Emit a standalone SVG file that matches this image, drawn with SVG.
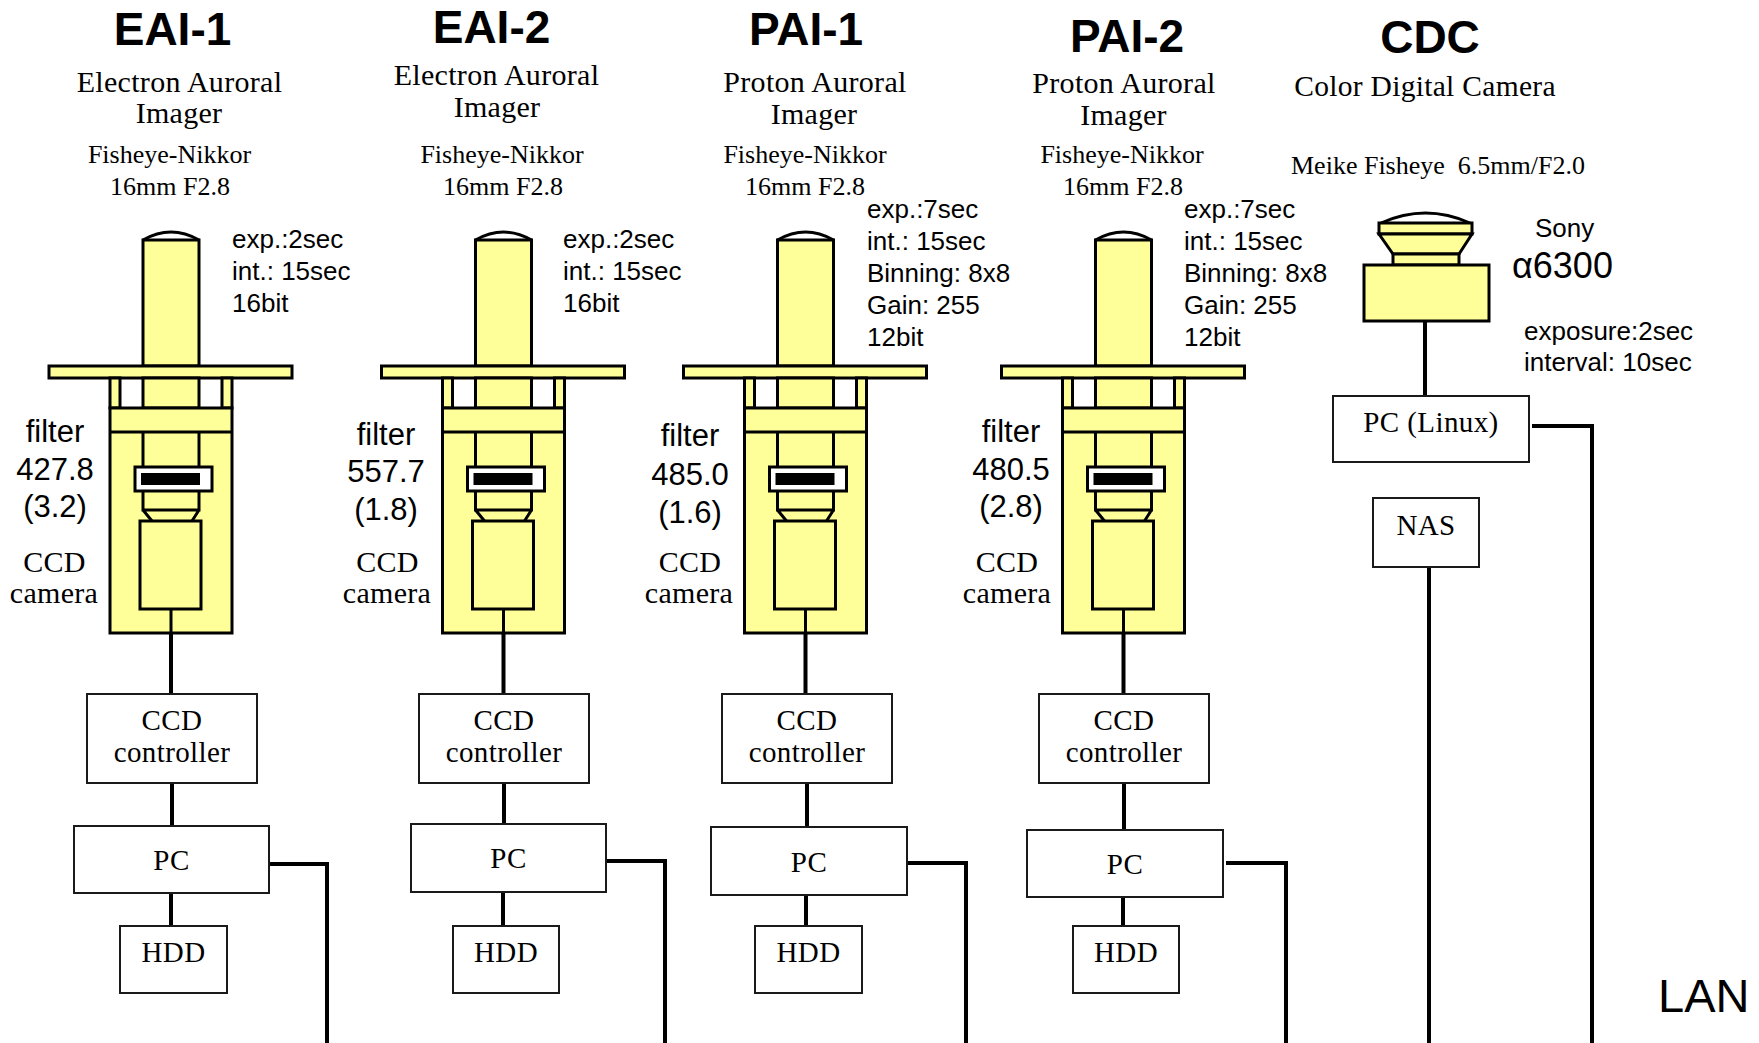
<svg xmlns="http://www.w3.org/2000/svg" xmlns:xlink="http://www.w3.org/1999/xlink" width="1759" height="1043" viewBox="0 0 1759 1043">
<style>
.y{fill:#FFFF99;stroke:#000;stroke-width:3}
.ln{stroke:#000;stroke-width:3;fill:none}
.box{fill:#fff;stroke:#1a1a1a;stroke-width:2}
.conn{stroke:#000;stroke-width:4;fill:none}
.t{font-family:"Liberation Sans",Arial,sans-serif;font-weight:bold;font-size:46px;text-anchor:middle;fill:#000}
.s{font-family:"Liberation Serif","Times New Roman",serif;font-size:30px;letter-spacing:0.3px;text-anchor:middle;fill:#000}
.s26{font-family:"Liberation Serif","Times New Roman",serif;font-size:26px;text-anchor:middle;fill:#000}
.b{font-family:"Liberation Serif","Times New Roman",serif;font-size:29px;letter-spacing:0.4px;text-anchor:middle;fill:#000}
.p{font-family:"Liberation Sans",Arial,sans-serif;font-size:26px;fill:#000}
.f{font-family:"Liberation Sans",Arial,sans-serif;font-size:31px;text-anchor:middle;fill:#000}
</style>
<defs>
<g id="cam">
<path d="M-28,240 Q0,224 28,240" class="ln" stroke-width="2.5" fill="#fff"/>
<rect class="y" x="-28" y="240" width="56" height="126"/>
<rect class="y" x="-122" y="366" width="243" height="12"/>
<rect class="y" x="-61" y="378" width="10" height="30"/>
<rect class="y" x="51" y="378" width="10" height="30"/>
<rect class="y" x="-28" y="378" width="56" height="30"/>
<rect class="y" x="-61" y="408" width="122" height="225"/>
<line class="ln" x1="-61" y1="432" x2="61" y2="432"/>
<line class="ln" x1="-28" y1="432" x2="-28" y2="467"/>
<line class="ln" x1="28" y1="432" x2="28" y2="467"/>
<rect x="-36" y="467" width="77" height="24" fill="#fff" stroke="#000" stroke-width="3"/>
<rect x="-30" y="473" width="59" height="12" fill="#000"/>
<path class="ln" d="M-28,491 V510 H28 V491 M-28,510 L-19,521 M28,510 L21,521"/>
<rect class="y" x="-31" y="521" width="61" height="88"/>
<line class="ln" x1="0" y1="609" x2="0" y2="633"/>
</g>
</defs>

<g id="connectors">
<path class="conn" d="M171,633 V694 M172,783 V826 M171,893 V926"/>
<path class="conn" d="M503.5,633 V694 M504,783 V824 M503,892 V926"/>
<path class="conn" d="M805.5,633 V694 M807,783 V827 M806,895 V926"/>
<path class="conn" d="M1123.5,633 V694 M1124,783 V830 M1123,897 V926"/>
<path class="conn" d="M1425,321 V396"/>
<path class="conn" d="M269,864 H327 V1043"/>
<path class="conn" d="M606,861 H665 V1043"/>
<path class="conn" d="M907,863 H966 V1043"/>
<path class="conn" d="M1226,863 H1286 V1043"/>
<path class="conn" d="M1532,426 H1592 V1043"/>
<path class="conn" d="M1429,567 V1043"/>
</g>

<g id="EAI-1">
<text class="t" x="172.5" y="45">EAI-1</text>
<text class="s" x="179.5" y="92">Electron Auroral</text>
<text class="s" x="179" y="123">Imager</text>
<text class="s26" x="169.5" y="163">Fisheye-Nikkor</text>
<text class="s26" x="170" y="195">16mm F2.8</text>
<text class="p" x="232" y="248">exp.:2sec</text>
<text class="p" x="232" y="280">int.: 15sec</text>
<text class="p" x="232" y="312">16bit</text>
<use xlink:href="#cam" x="171" y="0"/>
<text class="f" x="55" y="442">filter</text>
<text class="f" x="55" y="480">427.8</text>
<text class="f" x="55" y="517">(3.2)</text>
<text class="s" x="54.5" y="572">CCD</text>
<text class="s" x="54" y="603">camera</text>
</g>
<g id="EAI-1-ctrl"><rect class="box" x="87" y="694" width="170" height="89"/><text class="b" x="172" y="730">CCD</text><text class="b" x="172" y="762">controller</text></g>
<g id="EAI-1-pc"><rect class="box" x="74" y="826" width="195" height="67"/><text class="b" x="171.5" y="870">PC</text></g>
<g id="EAI-1-hdd"><rect class="box" x="120" y="926" width="107" height="67"/><text class="b" x="173.5" y="962">HDD</text></g>

<g id="EAI-2">
<text class="t" x="491.5" y="43">EAI-2</text>
<text class="s" x="496.5" y="85">Electron Auroral</text>
<text class="s" x="497" y="117">Imager</text>
<text class="s26" x="502" y="163">Fisheye-Nikkor</text>
<text class="s26" x="503" y="195">16mm F2.8</text>
<text class="p" x="563" y="248">exp.:2sec</text>
<text class="p" x="563" y="280">int.: 15sec</text>
<text class="p" x="563" y="312">16bit</text>
<use xlink:href="#cam" x="503.5" y="0"/>
<text class="f" x="386" y="445">filter</text>
<text class="f" x="386" y="482">557.7</text>
<text class="f" x="386" y="520">(1.8)</text>
<text class="s" x="387.5" y="572">CCD</text>
<text class="s" x="387" y="603">camera</text>
</g>
<g id="EAI-2-ctrl"><rect class="box" x="419" y="694" width="170" height="89"/><text class="b" x="504" y="730">CCD</text><text class="b" x="504" y="762">controller</text></g>
<g id="EAI-2-pc"><rect class="box" x="411" y="824" width="195" height="68"/><text class="b" x="508.5" y="868">PC</text></g>
<g id="EAI-2-hdd"><rect class="box" x="453" y="926" width="106" height="67"/><text class="b" x="506" y="962">HDD</text></g>

<g id="PAI-1">
<text class="t" x="806" y="45">PAI-1</text>
<text class="s" x="815" y="92">Proton Auroral</text>
<text class="s" x="814" y="124">Imager</text>
<text class="s26" x="805" y="163">Fisheye-Nikkor</text>
<text class="s26" x="805" y="195">16mm F2.8</text>
<text class="p" x="867" y="218">exp.:7sec</text>
<text class="p" x="867" y="250">int.: 15sec</text>
<text class="p" x="867" y="282">Binning: 8x8</text>
<text class="p" x="867" y="314">Gain: 255</text>
<text class="p" x="867" y="346">12bit</text>
<use xlink:href="#cam" x="805.5" y="0"/>
<text class="f" x="690" y="446">filter</text>
<text class="f" x="690" y="485">485.0</text>
<text class="f" x="690" y="523">(1.6)</text>
<text class="s" x="690" y="572">CCD</text>
<text class="s" x="689" y="603">camera</text>
</g>
<g id="PAI-1-ctrl"><rect class="box" x="722" y="694" width="170" height="89"/><text class="b" x="807" y="730">CCD</text><text class="b" x="807" y="762">controller</text></g>
<g id="PAI-1-pc"><rect class="box" x="711" y="827" width="196" height="68"/><text class="b" x="809" y="872">PC</text></g>
<g id="PAI-1-hdd"><rect class="box" x="755" y="926" width="107" height="67"/><text class="b" x="808.5" y="962">HDD</text></g>

<g id="PAI-2">
<text class="t" x="1127" y="52">PAI-2</text>
<text class="s" x="1124" y="93">Proton Auroral</text>
<text class="s" x="1123.5" y="125">Imager</text>
<text class="s26" x="1122" y="163">Fisheye-Nikkor</text>
<text class="s26" x="1123" y="195">16mm F2.8</text>
<text class="p" x="1184" y="218">exp.:7sec</text>
<text class="p" x="1184" y="250">int.: 15sec</text>
<text class="p" x="1184" y="282">Binning: 8x8</text>
<text class="p" x="1184" y="314">Gain: 255</text>
<text class="p" x="1184" y="346">12bit</text>
<use xlink:href="#cam" x="1123.5" y="0"/>
<text class="f" x="1011" y="442">filter</text>
<text class="f" x="1011" y="480">480.5</text>
<text class="f" x="1011" y="517">(2.8)</text>
<text class="s" x="1007" y="572">CCD</text>
<text class="s" x="1007" y="603">camera</text>
</g>
<g id="PAI-2-ctrl"><rect class="box" x="1039" y="694" width="170" height="89"/><text class="b" x="1124" y="730">CCD</text><text class="b" x="1124" y="762">controller</text></g>
<g id="PAI-2-pc"><rect class="box" x="1027" y="830" width="196" height="67"/><text class="b" x="1125" y="874">PC</text></g>
<g id="PAI-2-hdd"><rect class="box" x="1073" y="926" width="106" height="67"/><text class="b" x="1126" y="962">HDD</text></g>

<g id="CDC">
<text class="t" x="1430" y="53">CDC</text>
<text class="s" x="1425" y="96" style="font-size:29.5px">Color Digital Camera</text>
<text class="s26" x="1291" y="174" style="text-anchor:start;white-space:pre">Meike Fisheye  6.5mm/F2.0</text>
<path d="M1381,223 Q1425.5,203 1470,223" class="ln" stroke-width="2.5" fill="#fff"/>
<rect class="y" x="1379" y="223" width="93" height="11"/>
<polygon class="y" points="1379,234 1472,234 1459,254 1393,254"/>
<rect class="y" x="1393" y="254" width="66" height="11"/>
<rect class="y" x="1364" y="265" width="125" height="56"/>
<text class="p" x="1535" y="237">Sony</text>
<text class="p" x="1512" y="278" style="font-size:36px">α6300</text>
<text class="p" x="1524" y="340">exposure:2sec</text>
<text class="p" x="1524" y="371">interval: 10sec</text>
</g>
<g id="CDC-pc"><rect class="box" x="1333" y="396" width="196" height="66"/><text class="b" x="1431" y="432">PC (Linux)</text></g>
<g id="NAS"><rect class="box" x="1373" y="498" width="106" height="69"/><text class="b" x="1426" y="535">NAS</text></g>
<g id="LAN"><text class="p" x="1658" y="1012" style="font-size:47px">LAN</text></g>
</svg>
